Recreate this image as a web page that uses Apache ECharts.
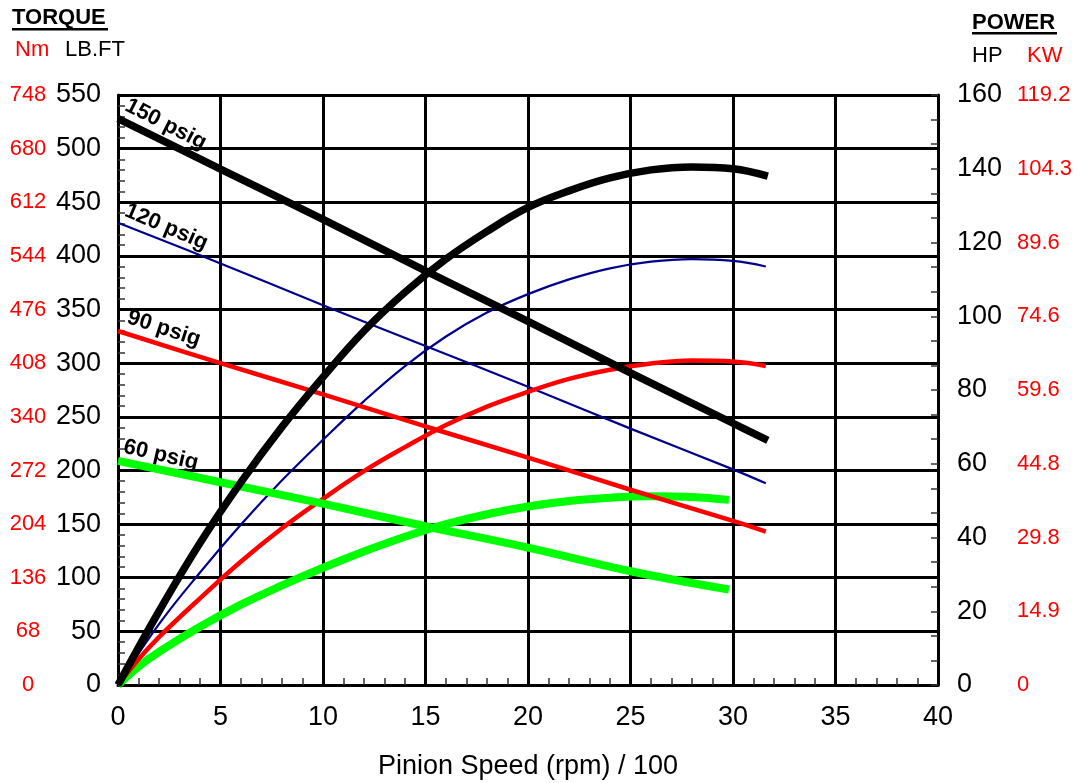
<!DOCTYPE html>
<html><head><meta charset="utf-8">
<script src="https://cdn.jsdelivr.net/npm/echarts@6/dist/echarts.min.js"></script>
<style>html,body{margin:0;padding:0;background:#fff}#c{width:1091px;height:783px}</style>
</head><body><div id="c"></div>
<script>
const FONT = 'Liberation Sans, Arial, Helvetica, sans-serif';

// Tick labels
const nmLabels = ['0','68','136','204','272','340','408','476','544','612','680','748'];
const kwLabels = ['0','14.9','29.8','44.8','59.6','74.6','89.6','104.3','119.2'];

// Torque (LB.FT) vs pinion speed (rpm/100)
const torque150X = [0, 5, 10, 15, 20, 25, 30, 31.7];
const torque150Y = [528, 481, 434, 386, 339, 291, 244, 228];
const torque120X = [0, 5, 10, 15, 20, 25, 30, 31.6];
const torque120Y = [431, 393, 354, 316, 278, 239, 201, 188];
const torque90X  = [0, 5, 10, 15, 20, 25, 30, 31.6];
const torque90Y  = [330, 300, 271, 241, 212, 182, 153, 143];
const torque60X  = [0, 5, 10, 15, 20, 25, 29.8];
const torque60Y  = [209, 189, 169, 148, 128, 106, 89];

// Power (HP) vs pinion speed
const power150X = [0, 2, 4, 6, 8, 10, 12, 14, 16, 18, 20, 22, 24, 26, 28, 30, 31.7];
const power150Y = [0, 20, 38.5, 55, 70, 83.5, 96, 106.5, 115.5, 123, 129.5, 134, 137.5, 139.7, 140.5, 140, 138];
const power120X = [0, 2, 4, 6, 8, 10, 12, 14, 16, 18, 20, 22, 24, 26, 28, 30, 31.6];
const power120Y = [0, 16.5, 30.5, 43.5, 55.5, 66.5, 77, 86.5, 94.5, 101, 106, 110, 113, 114.8, 115.5, 115, 113.5];
const power90X  = [0, 1, 2, 4, 6, 8, 10, 12, 14, 16, 18, 20, 22, 24, 26, 28, 30, 31.6];
const power90Y  = [0, 7, 13, 23.5, 33.5, 42.5, 50.5, 58, 64.5, 70.5, 75.5, 79.5, 83, 85.5, 87.2, 88, 87.7, 86.5];
const power60X  = [0, 1, 2, 4, 6, 8, 10, 12, 14, 16, 18, 20, 22, 24, 26, 28, 29.8];
const power60Y  = [0, 5, 9, 15.8, 21.8, 27, 31.8, 36.2, 40.2, 43.6, 46.3, 48.4, 49.9, 50.8, 51.2, 51, 50.2];

function pts(xs, ys) { return xs.map((x, i) => [x, ys[i]]); }
function line(name, xs, ys, yIdx, color, width, z, tag) {
  const s = { name, type: 'line', xAxisIndex: 0, yAxisIndex: yIdx, data: pts(xs, ys), smooth: 0.4,
           symbol: 'none', z,
           lineStyle: { color, width, cap: 'butt' }, itemStyle: { color },
           emphasis: { disabled: true }, animation: false };
  if (tag) {
    s.markPoint = {
      symbol: 'circle', symbolSize: 1, itemStyle: { color: 'rgba(0,0,0,0)' }, animation: false,
      label: { show: true, formatter: tag.text, position: tag.pos, rotate: tag.rot,
               align: 'left', verticalAlign: 'bottom', fontSize: 22, fontWeight: 'bold',
               color: '#000', fontFamily: FONT },
      data: [{ coord: [xs[0], ys[0]] }]
    };
  }
  return s;
}

const chart = echarts.init(document.getElementById('c'), null, { renderer: 'canvas' });
const tickLine = { color: '#333', width: 1.5 };
chart.setOption({
  backgroundColor: '#fff',
  animation: false,
  textStyle: { fontFamily: FONT },
  grid: { left: 118, right: 153, top: 95, bottom: 98, containLabel: false, outerBoundsMode: 'none' },
  xAxis: {
    type: 'value', min: 0, max: 40, interval: 5,
    name: 'Pinion Speed (rpm) / 100', nameLocation: 'middle', nameGap: 68,
    nameTextStyle: { fontSize: 27, color: '#000', fontFamily: FONT },
    axisLine: { show: true, onZero: false, lineStyle: { color: '#000', width: 3 } },
    axisTick: { show: false, inside: true },
    minorTick: { show: true, splitNumber: 5, length: 7, lineStyle: tickLine },
    splitLine: { show: true, lineStyle: { color: '#000', width: 3 } },
    axisLabel: { fontSize: 27, color: '#000', margin: 19, fontFamily: FONT }
  },
  yAxis: [
    { type: 'value', min: 0, max: 550, interval: 50, position: 'left',
      axisLine: { show: true, lineStyle: { color: '#000', width: 3 } },
      axisTick: { show: false, inside: true },
      minorTick: { show: true, splitNumber: 5, length: 7, lineStyle: tickLine },
      splitLine: { show: true, lineStyle: { color: '#000', width: 3 } },
      axisLabel: { fontSize: 27, color: '#000', margin: 17, fontFamily: FONT, padding: [3, 0, 0, 0] } },
    { type: 'value', min: 0, max: 550, interval: 50, position: 'left',
      axisLine: { show: false }, axisTick: { show: false }, splitLine: { show: false },
      axisLabel: { fontSize: 22, color: '#ff0000', margin: 90, align: 'center', fontFamily: FONT,
                   padding: [3, 0, 0, 0], formatter: v => nmLabels[Math.round(v / 50)] } },
    { type: 'value', min: 0, max: 160, interval: 20, position: 'right',
      axisLine: { show: true, lineStyle: { color: '#000', width: 3 } },
      axisTick: { show: true, inside: true, length: 7, lineStyle: tickLine },
      minorTick: { show: true, splitNumber: 3, length: 7, lineStyle: tickLine },
      splitLine: { show: false },
      axisLabel: { fontSize: 27, color: '#000', margin: 19, fontFamily: FONT, padding: [4, 0, 0, 0] } },
    { type: 'value', min: 0, max: 160, interval: 20, position: 'right',
      axisLine: { show: false }, axisTick: { show: false }, splitLine: { show: false },
      axisLabel: { fontSize: 22, color: '#ff0000', margin: 79, align: 'left', fontFamily: FONT,
                   padding: [3, 0, 0, 0], formatter: v => kwLabels[Math.round(v / 20)] } }
  ],
  graphic: [
    { type: 'text', left: 12, top: 7, style: { text: 'TORQUE', fill: '#000', font: 'bold 22px ' + FONT } },
    { type: 'rect', shape: { x: 12, y: 28, width: 96, height: 2.5 }, style: { fill: '#000' } },
    { type: 'text', left: 15, top: 39, style: { text: 'Nm', fill: '#ff0000', font: '22px ' + FONT } },
    { type: 'text', left: 65, top: 39, style: { text: 'LB.FT', fill: '#000', font: '22px ' + FONT } },
    { type: 'text', left: 972, top: 12, style: { text: 'POWER', fill: '#000', font: 'bold 22px ' + FONT } },
    { type: 'rect', shape: { x: 972, y: 32, width: 85, height: 2.5 }, style: { fill: '#000' } },
    { type: 'text', left: 972, top: 45, style: { text: 'HP', fill: '#000', font: '22px ' + FONT } },
    { type: 'text', left: 1027, top: 45, style: { text: 'KW', fill: '#ff0000', font: '22px ' + FONT } }
  ],
  series: [
    line('120 psig power', power120X, power120Y, 2, '#00008b', 2.2, 2),
    line('120 psig torque', torque120X, torque120Y, 0, '#00008b', 2.2, 3, { text: '120 psig', rot: -23, pos: [4, -2] }),
    line('60 psig power', power60X, power60Y, 2, '#00ff00', 8, 4),
    line('90 psig power', power90X, power90Y, 2, '#ff0000', 4.5, 5),
    line('60 psig torque', torque60X, torque60Y, 0, '#00ff00', 8, 6, { text: '60 psig', rot: -13, pos: [4, -3] }),
    line('90 psig torque', torque90X, torque90Y, 0, '#ff0000', 4.5, 7, { text: '90 psig', rot: -18, pos: [7, -3] }),
    line('150 psig power', power150X, power150Y, 2, '#000000', 7.5, 8),
    line('150 psig torque', torque150X, torque150Y, 0, '#000000', 7.5, 9, { text: '150 psig', rot: -27, pos: [4, -4] })
  ]
});
</script></body></html>
